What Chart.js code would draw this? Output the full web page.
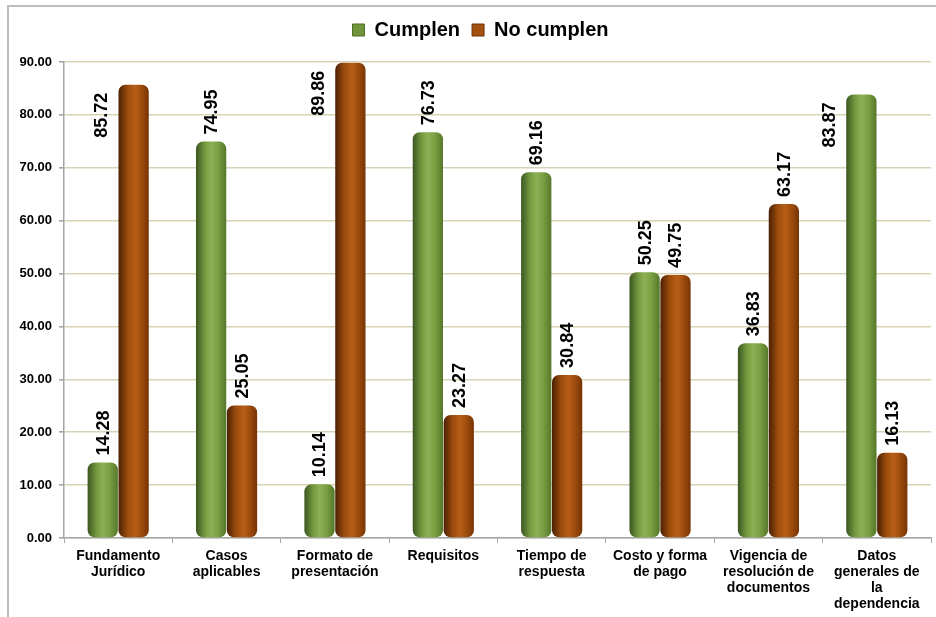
<!DOCTYPE html>
<html>
<head>
<meta charset="utf-8">
<script src="https://cdn.jsdelivr.net/npm/chart.js@4/dist/chart.umd.min.js"></script>
<style>
  html, body { margin: 0; padding: 0; background: #ffffff; }
  #wrap { position: relative; width: 936px; height: 617px; overflow: hidden; background: #fff; }
  #frame { position: absolute; left: 7px; top: 5px; width: 1000px; height: 1000px;
           border-left: 2px solid #bdbdbd; border-top: 2px solid #bdbdbd; box-sizing: border-box; }
  #c { position: absolute; left: 0; top: 0; }
</style>
</head>
<body>
<div id="wrap">
  <div id="frame"></div>
  <canvas id="c" width="936" height="617"></canvas>
</div>
<script>
// ---- data ----
const categories = [
  ["Fundamento", "Jurídico"],
  ["Casos", "aplicables"],
  ["Formato de", "presentación"],
  ["Requisitos"],
  ["Tiempo de", "respuesta"],
  ["Costo y forma", "de pago"],
  ["Vigencia de", "resolución de", "documentos"],
  ["Datos", "generales de", "la", "dependencia"]
];
const seriesNames = ["Cumplen", "No cumplen"];
const cumplen    = [14.28, 74.95, 10.14, 76.73, 69.16, 50.25, 36.83, 83.87];
const noCumplen  = [85.72, 25.05, 89.86, 23.27, 30.84, 49.75, 63.17, 16.13];
const yTicks = [0, 10, 20, 30, 40, 50, 60, 70, 80, 90];

// ---- style ----
const CAT_PCT = 0.57;
const BAR_PCT = 0.98;
const FONT = "'Liberation Sans', Arial, sans-serif";
const greenStops = [[0, '#3b5620'], [0.3, '#759b40'], [0.5, '#8cb053'], [0.72, '#7ba043'], [1, '#55772a']];
const orangeStops = [[0, '#4a2003'], [0.3, '#9c4c0d'], [0.55, '#b75e18'], [0.78, '#9b4a0c'], [1, '#763405']];

function barGradient(context, stops) {
  const chart = context.chart;
  const area = chart.chartArea;
  const xs = chart.scales.x;
  if (!area || !xs) return stops[2][1];
  const n = categories.length;
  const catW = xs.width / n;
  const chunk = catW * CAT_PCT / 2;
  const w = chunk * BAR_PCT;
  const center = xs.getPixelForValue(context.dataIndex) + chunk * (context.datasetIndex - 0.5);
  const g = chart.ctx.createLinearGradient(center - w / 2, 0, center + w / 2, 0);
  stops.forEach(s => g.addColorStop(s[0], s[1]));
  return g;
}

// legend: extra space below it, and centred like the original
const legendTweak = {
  id: 'legendTweak',
  afterInit(chart) {
    const lg = chart.legend;
    if (lg && !lg._patched) {
      const orig = lg.fit.bind(lg);
      lg.fit = function () { orig(); this.height += 12; };
      lg._patched = true;
    }
  },
  beforeDraw(chart) {
    if (chart.legend) { chart.legend.left = 30; }
  }
};

const valueLabels = {
  id: 'valueLabels',
  afterDatasetsDraw(chart) {
    const ctx = chart.ctx;
    const top = chart.chartArea.top;
    ctx.save();
    ctx.font = "bold 18px " + FONT;
    ctx.fillStyle = '#000';
    chart.data.datasets.forEach((ds, di) => {
      const meta = chart.getDatasetMeta(di);
      meta.data.forEach((el, i) => {
        const txt = ds.data[i].toFixed(2);
        const tw = ctx.measureText(txt).width;
        const props = el.getProps(['x', 'y', 'width'], true);
        let x = props.x + 1;
        let y = props.y - 7;
        let align = 'left';
        if (y - tw < top + 2) {
          x = props.x - props.width - 1.5;
          y = props.y + 8;
          align = 'right';
        }
        ctx.save();
        ctx.translate(x, y);
        ctx.rotate(-Math.PI / 2);
        ctx.textAlign = align;
        ctx.textBaseline = 'middle';
        ctx.fillText(txt, 0, 0);
        ctx.restore();
      });
    });
    ctx.restore();
  }
};

new Chart(document.getElementById('c'), {
  type: 'bar',
  data: {
    labels: categories,
    datasets: [
      {
        label: seriesNames[0],
        data: cumplen,
        backgroundColor: (c) => barGradient(c, greenStops),
        borderWidth: 0,
        borderRadius: 7,
        borderSkipped: false,
        categoryPercentage: CAT_PCT,
        barPercentage: BAR_PCT
      },
      {
        label: seriesNames[1],
        data: noCumplen,
        backgroundColor: (c) => barGradient(c, orangeStops),
        borderWidth: 0,
        borderRadius: 7,
        borderSkipped: false,
        categoryPercentage: CAT_PCT,
        barPercentage: BAR_PCT
      }
    ]
  },
  options: {
    responsive: false,
    animation: false,
    layout: { padding: { left: 0, right: 5, top: 8, bottom: 0 } },
    plugins: {
      tooltip: { enabled: false },
      legend: {
        display: true,
        position: 'top',
        labels: {
          font: { family: FONT, size: 20, weight: 'bold' },
          color: '#000',
          boxWidth: 12,
          boxHeight: 12,
          padding: 12,
          generateLabels(chart) {
            const fills = ['#6f9439', '#a4510f'];
            return chart.data.datasets.map((ds, i) => ({
              text: ds.label,
              fillStyle: fills[i],
              strokeStyle: i === 0 ? '#4e6e27' : '#6e3206',
              lineWidth: 1,
              hidden: false,
              datasetIndex: i,
              fontColor: '#000'
            }));
          }
        }
      }
    },
    scales: {
      x: {
        offset: true,
        grid: {
          display: true,
          offset: true,
          drawOnChartArea: false,
          drawTicks: true,
          tickLength: 5,
          color: '#a6a6a6',
          tickColor: '#a6a6a6'
        },
        border: { display: true, color: '#a6a6a6', width: 1.5 },
        ticks: {
          font: { family: FONT, size: 14, weight: 'bold', lineHeight: 1.15 },
          color: '#000',
          maxRotation: 0,
          minRotation: 0,
          autoSkip: false,
          padding: 5
        },
        afterFit(scale) { scale.height = 79; }
      },
      y: {
        min: yTicks[0],
        max: yTicks[yTicks.length - 1],
        afterBuildTicks(scale) { scale.ticks = yTicks.map(v => ({ value: v })); },
        grid: {
          color: '#d9d3b6',
          lineWidth: 1.6,
          tickColor: '#a6a6a6',
          tickLength: 5,
          drawTicks: true
        },
        border: { display: true, color: '#a6a6a6', width: 1.5 },
        ticks: {
          font: { family: FONT, size: 13, weight: 'bold' },
          color: '#000',
          padding: 7,
          callback: (v) => Number(v).toFixed(2)
        },
        afterFit(scale) { scale.width = 64; }
      }
    }
  },
  plugins: [legendTweak, valueLabels]
});
</script>
</body>
</html>
